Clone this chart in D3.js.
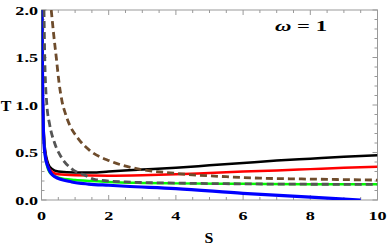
<!DOCTYPE html>
<html>
<head>
<meta charset="utf-8">
<script src="https://cdn.jsdelivr.net/npm/d3@7"></script>
<style>
  body { margin: 0; background: #fff; }
  text { font-family: "Liberation Serif", "DejaVu Serif", serif; font-weight: bold; fill: #000; }
</style>
</head>
<body>
<div id="chart"></div>
<script>
// values
const xTicks = [0, 2, 4, 6, 8, 10];
const yTicks = [0.0, 0.5, 1.0, 1.5, 2.0];

const sBlack = [0.015, 0.03, 0.05, 0.1, 0.2, 0.3, 0.5, 1.0, 1.5, 2, 3, 4, 5, 6, 7, 8, 9, 10];
const tBlack = [2.0, 1.3, 0.9, 0.55, 0.38, 0.33, 0.30, 0.29, 0.29, 0.30, 0.32, 0.34, 0.365, 0.39, 0.415, 0.435, 0.455, 0.47];

const sRed = [0.015, 0.03, 0.05, 0.1, 0.2, 0.3, 0.5, 1, 2, 3, 4, 5, 6, 7, 8, 9, 10];
const tRed = [2.0, 1.3, 0.88, 0.52, 0.35, 0.30, 0.27, 0.26, 0.255, 0.26, 0.27, 0.285, 0.30, 0.31, 0.325, 0.34, 0.35];

const sGreen = [0.015, 0.03, 0.05, 0.1, 0.2, 0.3, 0.5, 1, 1.5, 2, 3, 4, 6, 8, 10];
const tGreen = [2.0, 1.25, 0.85, 0.5, 0.32, 0.27, 0.235, 0.21, 0.2, 0.19, 0.18, 0.175, 0.17, 0.165, 0.165];

const sBlue = [0.012, 0.025, 0.04, 0.06, 0.1, 0.19, 0.39, 0.9, 1.4, 2, 2.5, 4, 6, 8, 9.5];
const tBlue = [2.0, 1.5, 1.0, 0.7, 0.49, 0.35, 0.245, 0.19, 0.168, 0.155, 0.145, 0.12, 0.07, 0.03, 0.0];

const sGray = [0.074, 0.1, 0.16, 0.24, 0.39, 0.59, 0.89, 1.29, 1.6, 2.5, 4, 6, 8, 10];
const tGray = [2.0, 1.45, 1.0, 0.8, 0.6, 0.45, 0.33, 0.26, 0.215, 0.19, 0.178, 0.17, 0.166, 0.165];

const sBrown = [0.29, 0.36, 0.44, 0.52, 0.61, 0.72, 0.85, 1.0, 1.15, 1.44, 2.04, 2.7, 4, 5.5, 6.5, 8, 10];
const tBrown = [2.0, 1.75, 1.5, 1.24, 1.04, 0.9, 0.78, 0.69, 0.62, 0.52, 0.41, 0.34, 0.28, 0.245, 0.23, 0.22, 0.21];

const width = 388, height = 249;
const margin = { top: 10, right: 10.5, bottom: 49, left: 41.5 };

const svg = d3.select("#chart")
  .append("svg")
  .attr("width", width)
  .attr("height", height);

const x = d3.scaleLinear().domain([0, 10]).range([margin.left, width - margin.right]);
const y = d3.scaleLinear().domain([0, 2]).range([height - margin.bottom, margin.top]);

// clip for curves
svg.append("clipPath").attr("id", "plot")
  .append("rect")
  .attr("x", x(0)).attr("y", y(2))
  .attr("width", x(10) - x(0)).attr("height", y(0) - y(2));

// frame with Mathematica-style inward ticks
const frame = svg.append("g").attr("stroke", "#999").attr("fill", "none").attr("stroke-width", 1);
frame.append("rect")
  .attr("x", x(0)).attr("y", y(2))
  .attr("width", x(10) - x(0)).attr("height", y(0) - y(2));

const xMinor = d3.range(0, 10.01, 0.5);
const yMinor = d3.range(0, 2.001, 0.1);

xMinor.forEach(v => {
  const major = Math.abs(v / 2 - Math.round(v / 2)) < 1e-6;
  const len = major ? 5 : 3;
  frame.append("line").attr("x1", x(v)).attr("x2", x(v)).attr("y1", y(0)).attr("y2", y(0) - len);
  frame.append("line").attr("x1", x(v)).attr("x2", x(v)).attr("y1", y(2)).attr("y2", y(2) + len);
});
yMinor.forEach(v => {
  const major = Math.abs(v / 0.5 - Math.round(v / 0.5)) < 1e-6;
  const len = major ? 5 : 3;
  frame.append("line").attr("y1", y(v)).attr("y2", y(v)).attr("x1", x(0)).attr("x2", x(0) + len);
  frame.append("line").attr("y1", y(v)).attr("y2", y(v)).attr("x1", x(10)).attr("x2", x(10) - len);
});

// stretched bold serif labels, like the original export
function label(txt, px, py, anchor, size, sx) {
  svg.append("text")
    .attr("transform", "translate(" + px + "," + py + ") scale(" + sx + ",1)")
    .attr("text-anchor", anchor)
    .style("font-size", size + "px")
    .text(txt);
}

xTicks.forEach(v => label(String(v), x(v), 219.5, "middle", 12.5, 1.45));
yTicks.forEach(v => label(v.toFixed(1), 38, y(v) + 4.5, "end", 12.5, 1.45));
label("S", 209, 243, "middle", 14.5, 1.1);
label("T", 6, 110.5, "middle", 14.5, 1.1);

// ω = 1 annotation
const ann = svg.append("text")
  .attr("x", 275)
  .attr("y", 30.5)
  .attr("textLength", 52)
  .attr("lengthAdjust", "spacingAndGlyphs")
  .style("font-size", "14px");
ann.append("tspan").style("font-style", "italic").text("ω");
ann.append("tspan").text(" = 1");

// curves
const line = d3.line()
  .x(d => x(d[0]))
  .y(d => y(d[1]))
  .curve(d3.curveMonotoneX);

const series = [
  { s: sBlack, t: tBlack, color: "#000000", width: 2.5, dash: null },
  { s: sRed, t: tRed, color: "#ff0000", width: 2.5, dash: null },
  { s: sGreen, t: tGreen, color: "#00ff00", width: 2.5, dash: null },
  { s: sBlue, t: tBlue, color: "#0000ff", width: 3.2, dash: null },
  { s: sGray, t: tGray, color: "#555555", width: 2.8, dash: "7,4" },
  { s: sBrown, t: tBrown, color: "#6e4c2c", width: 2.8, dash: "7,4" }
];

const curves = svg.append("g").attr("clip-path", "url(#plot)");
series.forEach(ser => {
  curves.append("path")
    .datum(ser.s.map((v, i) => [v, ser.t[i]]))
    .attr("d", line)
    .attr("fill", "none")
    .attr("stroke", ser.color)
    .attr("stroke-width", ser.width)
    .attr("stroke-dasharray", ser.dash);
});
</script>
</body>
</html>
